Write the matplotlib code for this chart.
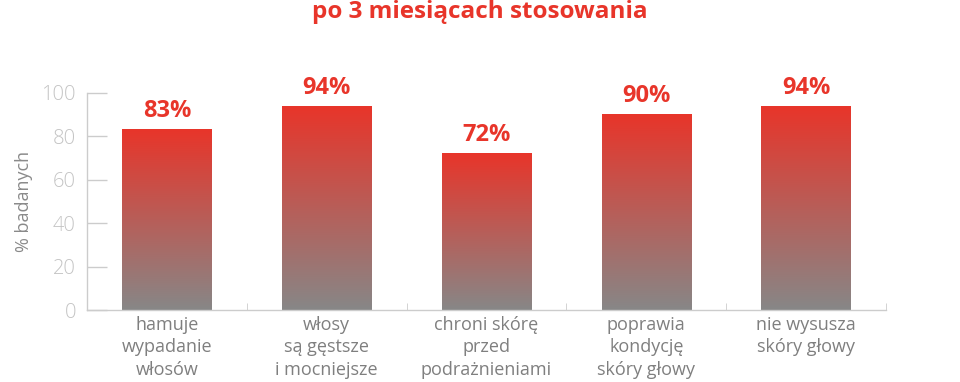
import numpy as np
import matplotlib.pyplot as plt
from matplotlib.colors import LinearSegmentedColormap

# data
categories = [
    "hamuje\nwypadanie\nwłosów",
    "włosy\nsą gęstsze\ni mocniejsze",
    "chroni skórę\nprzed\npodrażnieniami",
    "poprawia\nkondycję\nskóry głowy",
    "nie wysusza\nskóry głowy",
]
values = [83, 94, 72, 90, 94]
y_ticks = [0, 20, 40, 60, 80, 100]

RED = "#e8352a"
GRAY_BAR = "#878787"
AXIS = "#cccccc"

plt.rcParams['font.family'] = ['Open Sans', 'DejaVu Sans']

fig = plt.figure(figsize=(9.6, 3.82), dpi=100)
ax = fig.add_axes([87 / 960, 72 / 382, 799 / 960, 217 / 382])

cmap = LinearSegmentedColormap.from_list("bar", [GRAY_BAR, RED])
grad = np.linspace(0, 1, 256).reshape(-1, 1)
width = 0.56

x = np.arange(len(categories))
for xi, v in zip(x, values):
    ax.imshow(grad, cmap=cmap, origin="lower", aspect="auto",
              extent=[xi - width / 2, xi + width / 2, 0, v], zorder=2)
    ax.text(xi, v + 3, f"{v}%", ha="center", va="bottom", color=RED,
            fontsize=17, fontweight="bold")

ax.set_xlim(-0.5, len(categories) - 0.5)
ax.set_ylim(0, 100)

ax.set_yticks(y_ticks)
ax.set_yticklabels([str(t) for t in y_ticks])
ax.tick_params(axis="y", direction="in", length=14.4, width=1, color=AXIS,
               labelcolor="#c4c4c4", labelsize=14.5, pad=8)

ax.set_xticks(x)
ax.set_xticklabels(categories, linespacing=1.35)
ax.tick_params(axis="x", which="major", length=0, labelcolor="#7f7f7f",
               labelsize=13, pad=4)
ax.set_xticks(np.arange(len(categories)) + 0.5, minor=True)
ax.tick_params(axis="x", which="minor", direction="in", length=5, color=AXIS)

for s in ["top", "right"]:
    ax.spines[s].set_visible(False)
for s in ["left", "bottom"]:
    ax.spines[s].set_color(AXIS)
    ax.spines[s].set_linewidth(1)

for lbl in ax.get_yticklabels():
    lbl.set_fontweight("light")

ax.set_ylabel("% badanych", color="#8a8a8a", fontsize=13, labelpad=6)

fig.text(0.5, 1 - 12 / 382, "po 3 miesiącach stosowania", ha="center",
         va="center", color=RED, fontsize=17.5, fontweight="bold")

fig.savefig("out.png", dpi=100)
